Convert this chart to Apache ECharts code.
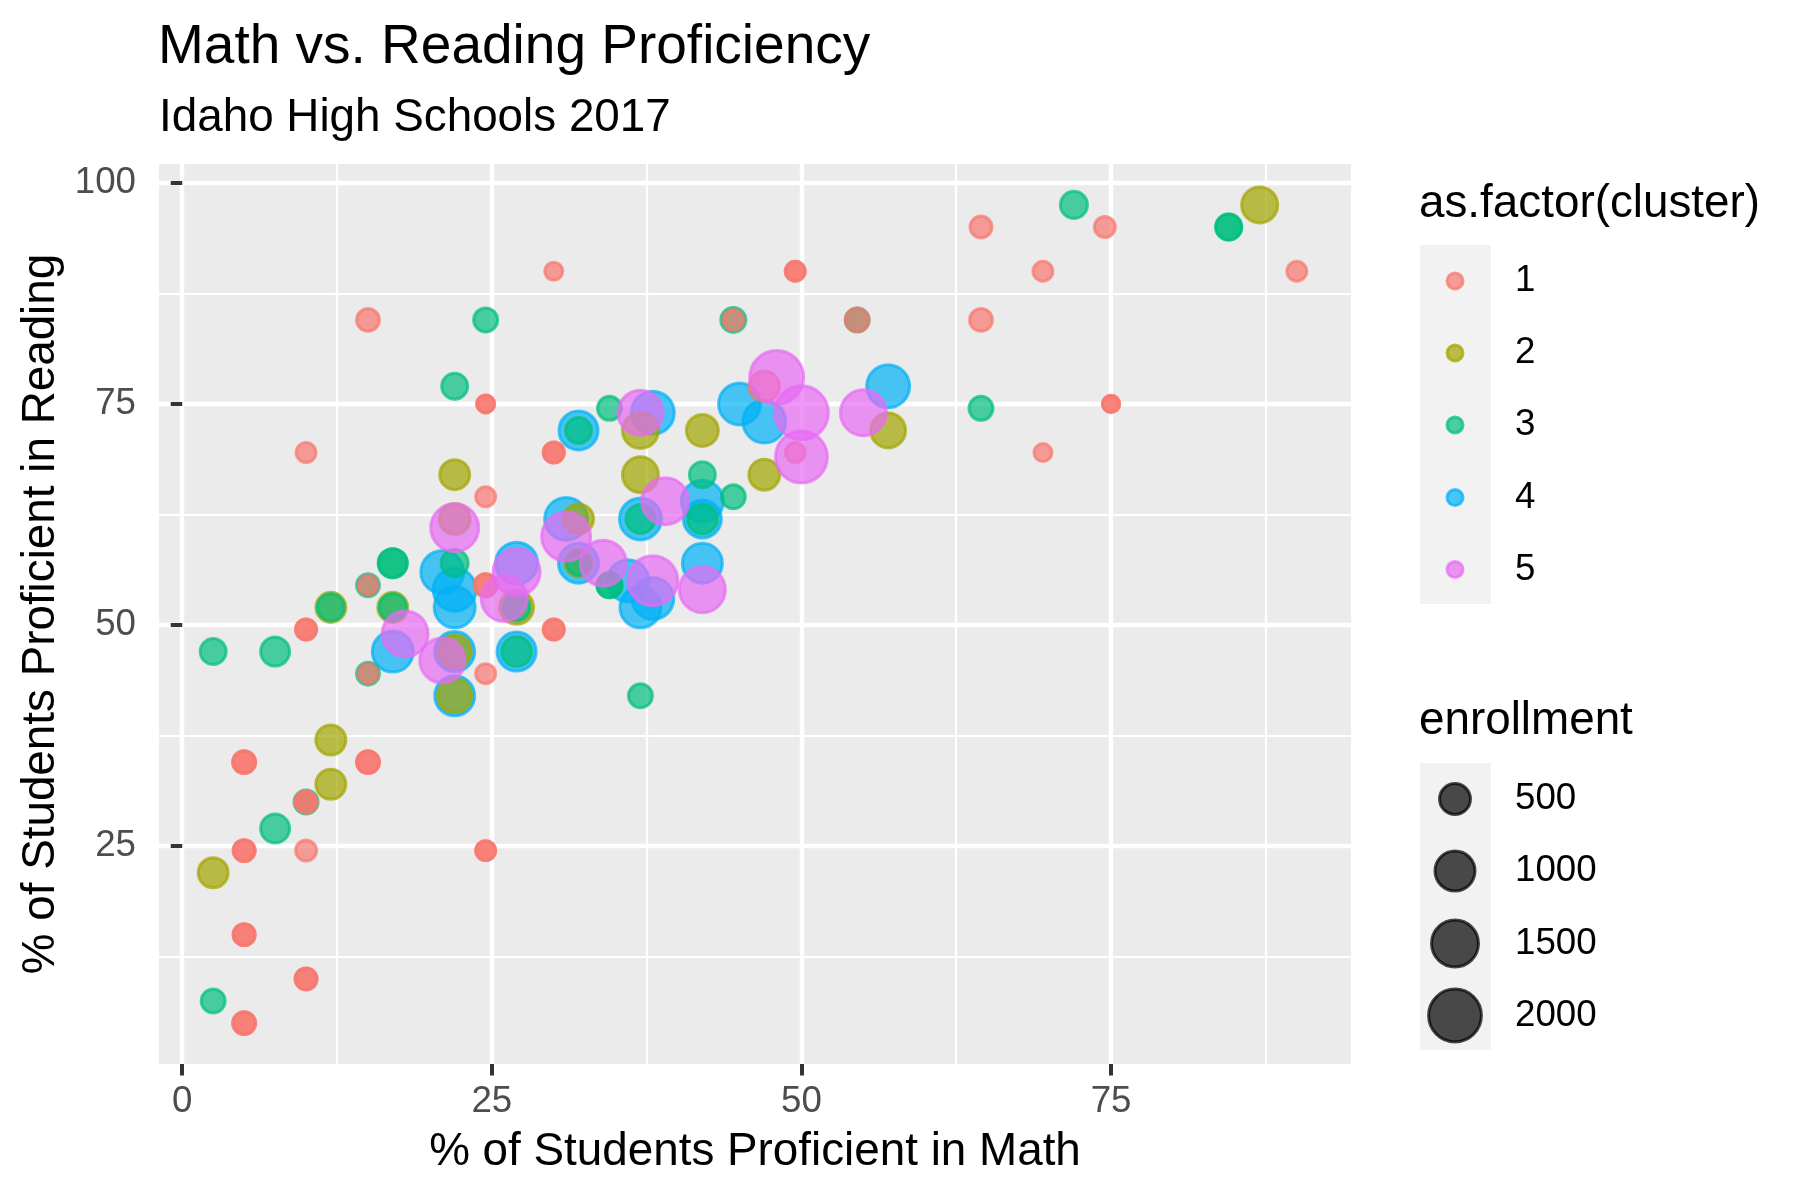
<!DOCTYPE html>
<html>
<head>
<meta charset="utf-8">
<title>Math vs. Reading Proficiency</title>
<script src="https://cdn.jsdelivr.net/npm/echarts@6/dist/echarts.min.js"></script>
<style>
  html, body { margin: 0; padding: 0; background: #fff; }
  #chart { width: 1800px; height: 1200px; }
</style>
</head>
<body>
<div id="chart"></div>
<script>
// [math %, reading %, enrollment] per school, grouped by cluster
const cluster1 = [
  [30, 90, 85], [15, 84.5, 200], [24.5, 75, 85], [24.5, 75, 85], [10, 69.5, 125],
  [30, 69.5, 150], [30, 69.5, 150], [49.5, 90, 125], [49.5, 90, 125], [44.5, 84.5, 150],
  [54.5, 84.5, 230], [47, 77, 480], [49.5, 69.5, 125], [64.5, 95, 175], [74.5, 95, 150],
  [69.5, 90, 125], [90, 90, 125], [64.5, 84.5, 200], [75, 75, 70], [75, 75, 70],
  [69.5, 69.5, 85], [24.5, 64.5, 125], [15, 54.5, 125], [10, 49.5, 150], [10, 49.5, 150],
  [15, 44.5, 125], [24.5, 44.5, 125], [24.5, 54.5, 200], [24.5, 54.5, 200], [30, 49.5, 150],
  [30, 49.5, 150], [5, 34.5, 200], [5, 34.5, 200], [15, 34.5, 200], [15, 34.5, 200],
  [10, 30, 175], [10, 30, 175], [5, 24.5, 175], [5, 24.5, 175], [10, 24.5, 150],
  [24.5, 24.5, 125], [24.5, 24.5, 125], [5, 15, 175], [5, 15, 175], [10, 10, 175],
  [10, 10, 175], [5, 5, 200], [5, 5, 200]
];
const cluster2 = [
  [87, 97.5, 760], [57, 72, 700], [42, 72, 550], [37, 72, 760], [37, 67, 760],
  [47, 67, 500], [22, 67, 460], [22, 62, 500], [32, 62, 460], [32, 57, 340],
  [27, 52, 650], [12, 52, 460], [17, 52, 460], [22, 47, 600], [22, 42, 650],
  [12, 37, 460], [12, 32, 460], [2.5, 22, 460]
];
const cluster3 = [
  [72, 97.5, 340], [84.5, 95, 300], [84.5, 95, 300], [64.5, 74.5, 234], [44.5, 84.5, 267],
  [54.5, 84.5, 230], [24.5, 84.5, 234], [22, 77, 300], [34.5, 74.5, 234], [32, 72, 300],
  [42, 67, 300], [44.5, 64.5, 234], [42, 62, 460], [37, 62, 416], [22, 57, 340],
  [17, 57, 416], [17, 57, 416], [32, 57, 234], [34.5, 54.5, 267], [34.5, 54.5, 267],
  [27, 52, 340], [12, 52, 340], [17, 52, 340], [15, 54.5, 200], [15, 44.5, 200],
  [2.5, 47, 300], [7.5, 47, 416], [27, 47, 460], [37, 42, 234], [10, 30, 234],
  [7.5, 27, 416], [2.5, 7.5, 234]
];
const cluster4 = [
  [57, 77, 1200], [45, 75, 1130], [47, 73, 1200], [38, 74, 1200], [32, 72, 940],
  [42, 64, 1130], [42, 62, 875], [37, 62, 1130], [31, 62, 1200], [27, 57, 1130],
  [32, 57, 1000], [36, 55, 1130], [38, 53, 1130], [37, 52, 1066], [42, 57, 1000],
  [21, 56, 1200], [22, 54, 1200], [22, 52, 1066], [17, 47, 1066], [22, 47, 1000],
  [22, 42, 1000], [27, 47, 940]
];
const cluster5 = [
  [48, 78, 2100], [50, 74, 2100], [55, 74, 1425], [50, 69, 1925], [37, 74, 1350],
  [39, 64, 1500], [31, 60, 1665], [34, 57, 1425], [38, 55, 1750], [42, 54, 1425],
  [27, 56, 1500], [26, 53, 1425], [22, 61, 1580], [18, 49, 1425], [21, 46, 1350]
];

const clusterNames = ['1', '2', '3', '4', '5'];
const clusterColors = ['#F8766D', '#A3A500', '#00BF7D', '#00B0F6', '#E76BF3'];
const enrollBreaks = [500, 1000, 1500, 2000];

const xTicks = [0, 25, 50, 75];
const yTicks = [25, 50, 75, 100];
const xMinor = [12.5, 37.5, 62.5, 87.5];
const yMinor = [12.5, 37.5, 62.5, 87.5];

const FONT = 'Liberation Sans, Arial, Helvetica, sans-serif';
const ALPHA = 0.7;

// ggplot-like area scaling: diameter grows with sqrt(enrollment)
function sizeOf(v) {
  return 9 + 0.98 * Math.sqrt(v);
}

const chart = echarts.init(document.getElementById('chart'), null, { renderer: 'canvas' });

const allClusters = [cluster1, cluster2, cluster3, cluster4, cluster5];
// drawing order so overlaps stack like the original (blue, olive, green, red, magenta)
const drawOrder = [3, 1, 2, 0, 4];

const series = drawOrder.map(i => ({
  name: clusterNames[i],
  type: 'scatter',
  data: allClusters[i],
  symbol: 'circle',
  symbolSize: (val) => sizeOf(val[2]),
  itemStyle: {
    color: clusterColors[i],
    borderColor: clusterColors[i],
    borderWidth: 3,
    opacity: ALPHA
  },
  emphasis: { disabled: true },
  xAxisIndex: 0,
  yAxisIndex: 0
}));

// legends drawn by hand so they sit like ggplot guides
const keyCX = 1455;
const labelX = 1515;
const clusterKeyY = [281, 353, 425, 497.5, 569.5];
const enrollKeyY = [799, 871, 943.5, 1015.5];

const graphics = [
  { type: 'rect', shape: { x: 1420, y: 245, width: 71, height: 359 }, style: { fill: '#F2F2F2' }, z: 0 },
  { type: 'rect', shape: { x: 1420, y: 763, width: 71, height: 287 }, style: { fill: '#F2F2F2' }, z: 0 }
];
clusterNames.forEach((n, i) => {
  graphics.push({
    type: 'circle', z: 1,
    shape: { cx: keyCX, cy: clusterKeyY[i], r: 8 },
    style: { fill: clusterColors[i], stroke: clusterColors[i], lineWidth: 3, opacity: ALPHA }
  });
  graphics.push({
    type: 'text', z: 1, x: labelX, y: clusterKeyY[i],
    style: { text: n, fontFamily: FONT, fontSize: 36.7, fill: '#000', align: 'left', verticalAlign: 'middle' }
  });
});
enrollBreaks.forEach((b, i) => {
  graphics.push({
    type: 'circle', z: 1,
    shape: { cx: keyCX, cy: enrollKeyY[i], r: sizeOf(b) / 2 },
    style: { fill: '#000', stroke: '#000', lineWidth: 3, opacity: ALPHA }
  });
  graphics.push({
    type: 'text', z: 1, x: labelX, y: enrollKeyY[i],
    style: { text: String(b), fontFamily: FONT, fontSize: 36.7, fill: '#000', align: 'left', verticalAlign: 'middle' }
  });
});

const xMin = -1.875, xMax = 94.375;
const yMin = 0.375, yMax = 102.125;

const option = {
  backgroundColor: '#ffffff',
  animation: false,
  title: [
    { text: 'Math vs. Reading Proficiency', left: 158, top: 20.5, padding: 0,
      textStyle: { fontFamily: FONT, fontSize: 55, fontWeight: 'normal', color: '#000' } },
    { text: 'Idaho High Schools 2017', left: 159, top: 95.5, padding: 0,
      textStyle: { fontFamily: FONT, fontSize: 45.8, fontWeight: 'normal', color: '#000' } },
    { text: 'as.factor(cluster)', left: 1419, top: 181.5, padding: 0,
      textStyle: { fontFamily: FONT, fontSize: 45.8, fontWeight: 'normal', color: '#000' } },
    { text: 'enrollment', left: 1419, top: 698.5, padding: 0,
      textStyle: { fontFamily: FONT, fontSize: 45.8, fontWeight: 'normal', color: '#000' } }
  ],
  graphic: graphics,
  grid: {
    left: 159, top: 164, width: 1192, height: 900,
    show: true, backgroundColor: '#EBEBEB', borderWidth: 0
  },
  xAxis: [
    {
      type: 'value', min: xMin, max: xMax,
      name: '% of Students Proficient in Math',
      nameLocation: 'middle', nameGap: 65,
      nameTextStyle: { fontFamily: FONT, fontSize: 45.8, color: '#000' },
      axisLine: { show: false },
      axisTick: { show: true, customValues: xTicks, length: 11.5, lineStyle: { color: '#333333', width: 4 } },
      axisLabel: { customValues: xTicks, margin: 19, fontFamily: FONT, fontSize: 36.7, color: '#4D4D4D' },
      splitLine: { show: true, lineStyle: { color: '#FFFFFF', width: 4.4 } },
      z: 1
    },
    {
      type: 'value', min: xMin, max: xMax, position: 'bottom',
      axisLine: { show: false },
      axisTick: { show: false, customValues: xMinor },
      axisLabel: { show: false, customValues: xMinor },
      splitLine: { show: true, lineStyle: { color: '#FFFFFF', width: 2.2 } },
      z: 0
    }
  ],
  yAxis: [
    {
      type: 'value', min: yMin, max: yMax,
      name: '% of Students Proficient in Reading',
      nameLocation: 'middle', nameGap: 89, nameRotate: 90,
      nameTextStyle: { fontFamily: FONT, fontSize: 45.8, color: '#000' },
      axisLine: { show: false },
      axisTick: { show: true, customValues: yTicks, length: 11.5, lineStyle: { color: '#333333', width: 4 } },
      axisLabel: { customValues: yTicks, margin: 23, fontFamily: FONT, fontSize: 36.7, color: '#4D4D4D' },
      splitLine: { show: true, lineStyle: { color: '#FFFFFF', width: 4.4 } },
      z: 1
    },
    {
      type: 'value', min: yMin, max: yMax, position: 'left',
      axisLine: { show: false },
      axisTick: { show: false, customValues: yMinor },
      axisLabel: { show: false, customValues: yMinor },
      splitLine: { show: true, lineStyle: { color: '#FFFFFF', width: 2.2 } },
      z: 0
    }
  ],
  series: series
};

chart.setOption(option);
window.addEventListener('resize', () => chart.resize());
</script>
</body>
</html>
